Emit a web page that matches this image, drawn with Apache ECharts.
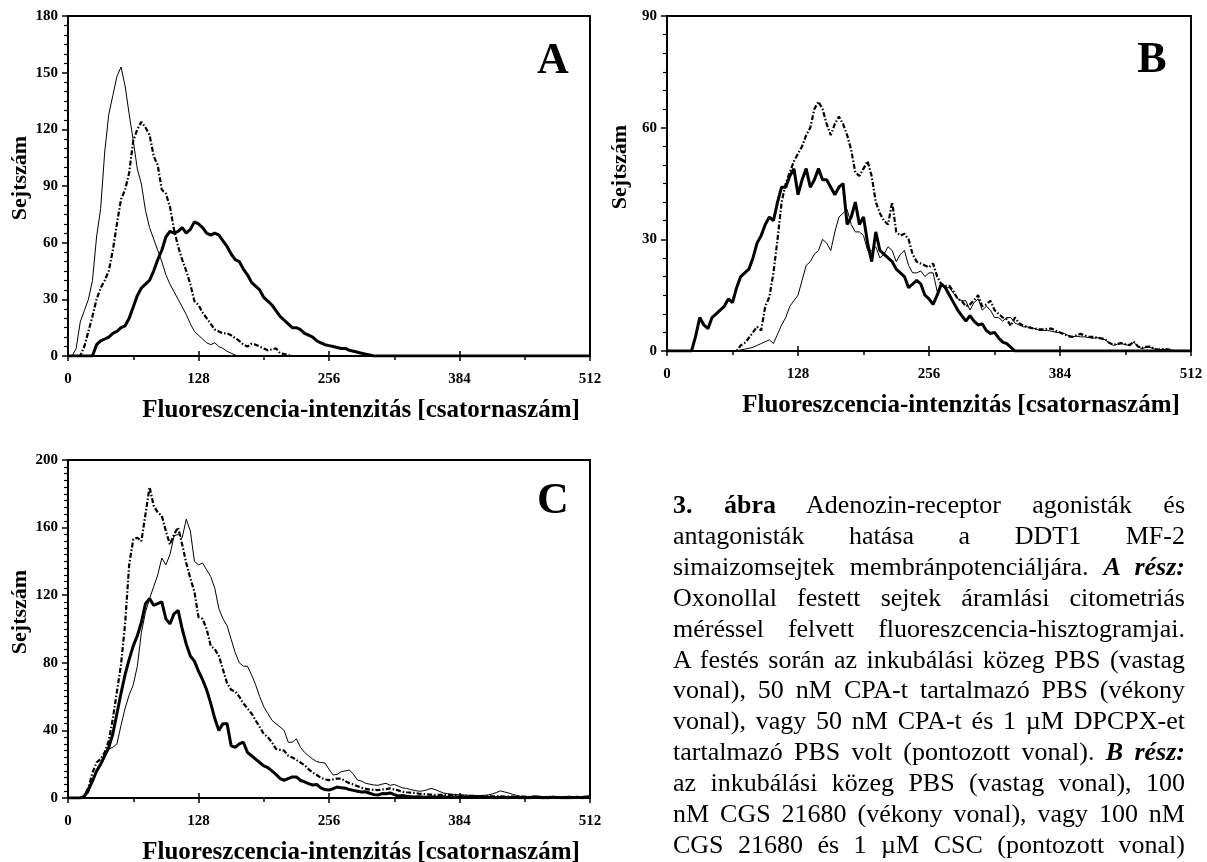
<!DOCTYPE html>
<html>
<head>
<meta charset="utf-8">
<script src="https://cdn.jsdelivr.net/npm/echarts@6/dist/echarts.min.js"></script>
<style>
html,body{margin:0;padding:0;background:#fff;}
#chart{position:absolute;left:0;top:0;width:1207px;height:862px;}
#caption{position:absolute;left:673px;top:490px;width:512px;font-family:"Liberation Serif","Times New Roman",serif;font-size:26px;line-height:30.9px;color:#000;}
#caption div{text-align:justify;text-align-last:justify;}
</style>
</head>
<body>
<div id="chart"></div>
<div id="caption">
<div><b>3. ábra</b> Adenozin-receptor agonisták és</div>
<div>antagonisták hatása a DDT1 MF-2</div>
<div>simaizomsejtek membránpotenciáljára. <b><i>A rész:</i></b></div>
<div>Oxonollal festett sejtek áramlási citometriás</div>
<div>méréssel felvett fluoreszcencia-hisztogramjai.</div>
<div>A festés során az inkubálási közeg PBS (vastag</div>
<div>vonal), 50 nM CPA-t tartalmazó PBS (vékony</div>
<div>vonal), vagy 50 nM CPA-t és 1 µM DPCPX-et</div>
<div>tartalmazó PBS volt (pontozott vonal). <b><i>B rész:</i></b></div>
<div>az inkubálási közeg PBS (vastag vonal), 100</div>
<div>nM CGS 21680 (vékony vonal), vagy 100 nM</div>
<div>CGS 21680 és 1 µM CSC (pontozott vonal)</div>
</div>
<script>
// Channel numbers (x positions of the histogram bins, every 4th channel)
const channels = [
0,4,8,12,16,20,24,28,32,36,40,44,48,52,56,60,
64,68,72,76,80,84,88,92,96,100,104,108,112,116,120,124,
128,132,136,140,144,148,152,156,160,164,168,172,176,180,184,188,
192,196,200,204,208,212,216,220,224,228,232,236,240,244,248,252,
256,260,264,268,272,276,280,284,288,292,296,300,304,308,312,316,
320,324,328,332,336,340,344,348,352,356,360,364,368,372,376,380,
384,388,392,396,400,404,408,412,416,420,424,428,432,436,440,444,
448,452,456,460,464,468,472,476,480,484,488,492,496,500,504,508,
512];

const xTicks = [0,128,256,384,512];
const xTitle = 'Fluoreszcencia-intenzitás [csatornaszám]';
const yTitle = 'Sejtszám';
const panelLetters = ['A','B','C'];

// Panel A
const aThick = [
0,0,0,0,0,0,0,6,8,9,10,12,13,15,16,20,
26,32,36,38,40,45,51,56,63,66,65,66,68,65,67,71,
70,68,65,64,65,64,61,58,54,51,50,46,43,39,37,35,
31,29,27,24,21,19,17,15,15,14,12,11,10,8,7,6,
5.5,5,4.5,4,4,3,2.5,2,1.5,1,0.5,0,0,0,0,0,
0,0,0,0,0,0,0,0,0,0,0,0,0,0,0,0,
0,0,0,0,0,0,0,0,0,0,0,0,0,0,0,0,
0,0,0,0,0,0,0,0,0,0,0,0,0,0,0,0,
0];
const aThin = [
0,0,4,18,24,30,40,63,78,108,128,138,148,153,143,128,
114,99,91,77,68,62,56,50,43,38,34,30,26,22,17,13,
11,9,7,6,7,5,4,2.5,1.5,0.5,0,0,0,0,0,0,
0,0,0,0,0,0,0,0,0,0,0,0,0,0,0,0,
0,0,0,0,0,0,0,0,0,0,0,0,0,0,0,0,
0,0,0,0,0,0,0,0,0,0,0,0,0,0,0,0,
0,0,0,0,0,0,0,0,0,0,0,0,0,0,0,0,
0,0,0,0,0,0,0,0,0,0,0,0,0,0,0,0,
0];
const aDotted = [
0,0,0,0,5,13,21,30,36,40,45,56,70,83,88,97,
114,120,124,121,117,106,101,88,86,79,67,58,51,45,38,29,
27,23,20,17,14,13,12,12,11,9.5,8,6,5,6.5,6,5,
4,3,3.5,4,1.5,1,0.5,0,0,0,0,0,0,0,0,0,
0,0,0,0,0,0,0,0,0,0,0,0,0,0,0,0,
0,0,0,0,0,0,0,0,0,0,0,0,0,0,0,0,
0,0,0,0,0,0,0,0,0,0,0,0,0,0,0,0,
0,0,0,0,0,0,0,0,0,0,0,0,0,0,0,0,
0];

// Panel B
const bThick = [
0,0,0,0,0,0,0,4,9,7,6,9,10,11,12,14,
13,17,20,21,22,25,29,31,34,36,35,40,44,44,47,49,
42,46,49,44,46,49,46,46,44,42,44,45,34,36,40,34,
36,29,24,32,27,26,25,24,22,21,20,17,18,19,18,15,
14,12.5,15,18,17,15,13,11,9.5,8,9.5,8,7,7.3,5.5,4.7,
5,3.5,2.4,2,1,0,0,0,0,0,0,0,0,0,0,0,
0,0,0,0,0,0,0,0,0,0,0,0,0,0,0,0,
0,0,0,0,0,0,0,0,0,0,0,0,0,0,0,0,
0];
const bThin = [
0,0,0,0,0,0,0,0,0,0,0,0,0,0,0,0,
0,0,0.3,0.5,0.7,1,1.5,2,2.5,3,2,4.5,7,9,12,13.5,
15,19,23,24,26,27,30,29,27,32,36,37,38,34,32,32,
31,27,27,28,25,26,28,27,24,26,27,23,21,21,21.5,20,
21,21,16,18,17,17,15.5,14,13.5,13.5,11,13,14,11,12,11,
9,9,8,9,9,7.5,7,6.5,6.5,6,6,5.5,5.5,5.5,5.3,5,
5,4.7,4.2,3.8,4,3.8,3.8,3.6,3.4,3.6,3.3,3,2.2,1.5,1.8,2,
1.7,1.5,2.4,1.2,0.6,1,1,0.5,0.3,0.4,0.4,0.2,0,0,0,0,
0];
const bDotted = [
0,0,0,0,0,0,0,0,0,0,0,0,0,0,0,0,
0,0,1.5,2.2,3.5,5,6.5,5.5,12,14.5,21,30,40,45,48,51,
53,55,58,60,65,67,65,61,58,61,63,61,58,54,48,47,
49,51,47,40,37,35,34,40,32,31,31.5,30,26,24,23.5,23,
22.5,23.5,20,18,17.5,17.5,16,14,13.5,12,12.5,13.6,15,12,12.5,13.5,
11,10,9,8.5,6.8,9,7.5,6.8,6.5,6.2,6,5.8,5.8,6,6,5.4,
5,4.5,4,3.8,4.2,4.6,4.2,3.8,3.8,3.6,3.4,3.2,2.2,1.7,1.9,2.1,
1.8,1.6,2.5,1.3,0.8,1.1,1.2,0.6,0.4,0.5,0.5,0.3,0.1,0,0,0,
0];

// Panel C
const cThick = [
0,0,0,0,1,5,10,16,20,25,30,38,50,62,73,82,
90,96,104,115,118,114,115,116,106,103,109,111,100,91,84,81,
75,70,64,56,47,40,44,44,31,30,32,33,27,25,23,21,
19,18,16,14,11.5,10.5,11.5,12.5,12.5,10.5,9.5,8.5,7.7,8,6,5,
4.7,5.5,6.5,6,5.8,5,4.5,4,3.5,3.7,2.8,2,1.8,2.6,2.5,3,
2,1.2,1.5,1,0.8,0.6,0.8,0.6,0.5,0.8,0.6,0.5,0.7,0.5,0.4,0.6,
0.5,0.4,0.5,0.3,0.4,0.5,0.3,0.4,0.3,0.2,0.4,0.3,0.2,0.4,0.3,0.2,
0.3,0.2,0.3,0.4,0.2,0.3,0.2,0.4,0.3,0.2,0.3,0.2,0.3,0.4,0.2,0.3,
0.4];
const cThin = [
0,0,0,0,0.5,3,10,15,19,24,29,30,32,43,53,61,
67,78,98,110,118,125,132,142,138,144,155,156,154,165,158,140,
138,139,135,131,124,112,106,102,94,86,80,78,78,73,67,60,
54,50,46,44,42,40,33,33,35,30,27,25,23,21.5,21,20.7,
17,13.6,14,15.6,16,16.6,14,10.6,10,8.7,8.2,7.7,7.5,8.2,8.7,7.5,
8,7,6,5.7,5,4.5,4,4.2,4.8,5.7,5,4,3,2.6,2.3,2,
1.8,1.8,1.6,1.5,1.5,1.4,1.6,1.8,2.4,3.2,4.2,3.6,3,2.2,1.5,1,
1,0.8,1,1.2,0.9,0.7,0.8,1,0.8,0.6,0.9,1.1,0.7,0.6,0.9,1.2,
1.4];
const cDotted = [
0,0,0,0,1,6,15,21,23,27,34,47,63,79,103,138,
153,154,152,168,184,173,169,167,158,150,156,160,150,139,130,122,
107,106,100,90,88,84,76,68,64,63,60,56,53,50,46,42,
38,36,33,29,28.5,28,25,24,22.5,21,19.5,17,15,13.6,12,11,
10.6,11,11.5,11.5,10,8.7,8,7,6,5.5,5,4.8,4.7,5,5.3,5.7,
5,4.5,3.7,3.4,3.2,3,2.6,2.4,2.2,2,1.8,1.8,1.9,1.8,1.7,1.8,
1.5,1.4,1.3,1.2,1.2,1.1,1,1.2,1,0.9,1,0.8,0.9,0.8,0.7,0.8,
0.7,0.6,0.8,0.7,0.6,0.5,0.7,0.6,0.5,0.6,0.5,0.4,0.6,0.5,0.4,0.5,
0.6];

const yMaxes = [180, 90, 200];
const yIntervals = [30, 30, 40];
const yMinorSplits = [6, 6, 10];
const panelSeries = [[aThick, aThin, aDotted],[bThick, bThin, bDotted],[cThick, cThin, cDotted]];

const FONT = '"Liberation Serif","Times New Roman",serif';
const grids = [
  {left:68, top:16, width:522, height:340},
  {left:667, top:16, width:524, height:335},
  {left:68, top:460, width:522, height:338}
];
const yNamePad = [16, 33, 34];
const letterPos = [[553,62],[1152,61],[553,502]];

function pairs(vals){ return channels.map((c,i)=>[c, vals[i]]); }

const option = {
  animation:false,
  backgroundColor:'#fff',
  grid: grids.map(g=>Object.assign({show:true, borderColor:'#000', borderWidth:2, backgroundColor:'transparent', containLabel:false, outerBoundsMode:'none'}, g)),
  xAxis: [],
  yAxis: [],
  series: [],
  graphic: []
};

grids.forEach((g, gi)=>{
  option.xAxis.push({
    type:'value', gridIndex:gi, min:0, max:512, interval:128, position:'bottom',
    axisLine:{show:true, onZero:false, lineStyle:{color:'#000', width:2}},
    axisTick:{show:true, inside:false, length:5, lineStyle:{color:'#000', width:1.5}},
    minorTick:{show:true, splitNumber:2, length:4, lineStyle:{color:'#000', width:1.5}},
    axisLabel:{show:true, margin:16, color:'#000', fontFamily:FONT, fontWeight:'bold', fontSize:15,
      formatter:(v)=> xTicks.indexOf(v) >= 0 ? String(v) : ''},
    splitLine:{show:false},
    name:xTitle, nameLocation:'middle', nameGap:42,
    nameTextStyle:{color:'#000', fontFamily:FONT, fontWeight:'bold', fontSize:25, padding:[0,0,0,64]}
  });
  option.xAxis.push({
    type:'value', gridIndex:gi, min:0, max:512, interval:128, position:'bottom',
    axisLine:{show:false},
    axisTick:{show:true, inside:true, length:5, lineStyle:{color:'#000', width:1.5}},
    axisLabel:{show:false}, splitLine:{show:false}
  });
  option.yAxis.push({
    type:'value', gridIndex:gi, min:0, max:yMaxes[gi], interval:yIntervals[gi],
    axisLine:{show:true, onZero:false, lineStyle:{color:'#000', width:2}},
    axisTick:{show:true, inside:false, length:6, lineStyle:{color:'#000', width:1.5}},
    minorTick:{show:true, splitNumber:yMinorSplits[gi], length:4, lineStyle:{color:'#000', width:1.2}},
    axisLabel:{show:true, margin:10, color:'#000', fontFamily:FONT, fontWeight:'bold', fontSize:15},
    splitLine:{show:false}, minorSplitLine:{show:false},
    name:yTitle, nameLocation:'middle', nameGap:36,
    nameTextStyle:{color:'#000', fontFamily:FONT, fontWeight:'bold', fontSize:22, padding:[0,0,0,yNamePad[gi]]}
  });
  const [thick, thin, dotted] = panelSeries[gi];
  const base = {type:'line', xAxisIndex:gi*2, yAxisIndex:gi, showSymbol:false, symbol:'none', smooth:false, silent:true};
  option.series.push(Object.assign({}, base, {name:'vékony vonal', data:pairs(thin), lineStyle:{color:'#000', width:1}}));
  option.series.push(Object.assign({}, base, {name:'pontozott vonal', data:pairs(dotted), lineStyle:{color:'#000', width:2.2, type:[5,2,1.5,2]}}));
  option.series.push(Object.assign({}, base, {name:'vastag vonal', data:pairs(thick), lineStyle:{color:'#000', width:3}}));
  option.graphic.push({
    type:'text', x:letterPos[gi][0], y:letterPos[gi][1],
    style:{text:panelLetters[gi], fill:'#000', font:'bold 44px ' + FONT, align:'center', verticalAlign:'middle', textAlign:'center', textVerticalAlign:'middle'}
  });
});

const chart = echarts.init(document.getElementById('chart'), null, {renderer:'canvas'});
chart.setOption(option);
</script>
</body>
</html>
